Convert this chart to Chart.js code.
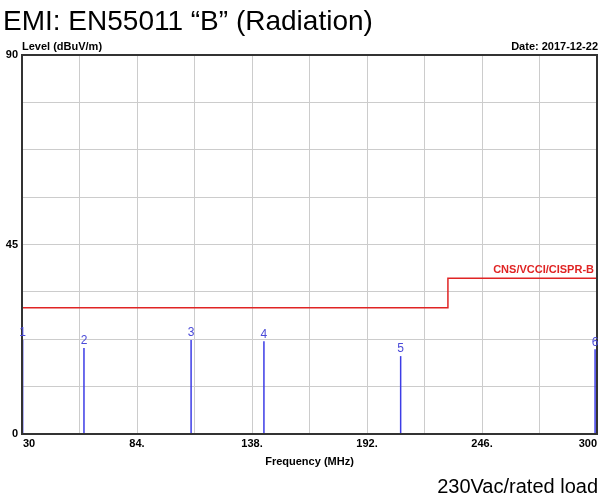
<!DOCTYPE html>
<html>
<head>
<meta charset="utf-8">
<script src="https://cdn.jsdelivr.net/npm/chart.js@4"></script>
<style>
  html, body { margin: 0; padding: 0; background: #fff; }
  #wrap { width: 610px; height: 497px; position: relative; }
</style>
</head>
<body>
<div id="wrap"><canvas id="myChart" width="610" height="497"></canvas></div>
<script>
// peak markers
var markerNo = ['1', '2', '3', '4', '5', '6'];
var markerFreq = [30.3, 59.1, 109.4, 143.6, 207.8, 299.1];
var markerLevel = [22.3, 20.4, 22.3, 22.0, 18.5, 20.1];

// CNS/VCCI/CISPR-B limit line
var limitFreq = [30, 230, 230, 300];
var limitLevel = [30, 30, 37, 37];

var xTickValues = [30, 84, 138, 192, 246, 300];
var xTicks = ['30', '84.', '138.', '192.', '246.', '300'];
var yTicks = ['0', '45', '90'];

var font = 'Arial, "Liberation Sans", sans-serif';

var datasets = [];
datasets.push({
	label: 'CNS/VCCI/CISPR-B',
	data: limitFreq.map(function (f, i) { return { x: f, y: limitLevel[i] }; }),
	borderColor: '#e02424',
	borderWidth: 1.5,
	pointRadius: 0,
	fill: false
});
for (var i = 0; i < markerFreq.length; i++) {
	datasets.push({
		label: markerNo[i],
		data: [{ x: markerFreq[i], y: 0 }, { x: markerFreq[i], y: markerLevel[i] }],
		borderColor: '#3c3ce6',
		borderWidth: 1.5,
		pointRadius: 0,
		fill: false
	});
}

var textPlugin = {
	id: 'texts',
	afterDraw: function (chart) {
		var ctx = chart.ctx;
		var a = chart.chartArea;
		var xs = chart.scales.x, ys = chart.scales.y;
		ctx.save();
		// frame
		ctx.strokeStyle = '#333';
		ctx.lineWidth = 2;
		ctx.strokeRect(a.left, a.top, a.right - a.left, a.bottom - a.top);

		// marker numbers
		ctx.fillStyle = '#4a4ad8';
		ctx.font = '12px ' + font;
		ctx.textAlign = 'center';
		ctx.textBaseline = 'bottom';
		for (var i = 0; i < markerFreq.length; i++) {
			ctx.fillText(markerNo[i], xs.getPixelForValue(markerFreq[i]), ys.getPixelForValue(markerLevel[i]) - 1);
		}

		// limit label
		ctx.fillStyle = '#e02424';
		ctx.font = 'bold 11px ' + font;
		ctx.textAlign = 'right';
		ctx.textBaseline = 'bottom';
		ctx.fillText('CNS/VCCI/CISPR-B', a.right - 3, ys.getPixelForValue(limitLevel[3]) - 3);

		// x tick labels (first one left aligned, last one right aligned)
		ctx.fillStyle = '#000';
		ctx.font = 'bold 11px ' + font;
		ctx.textBaseline = 'middle';
		for (var k = 0; k < xTicks.length; k++) {
			ctx.textAlign = k === 0 ? 'left' : (k === xTicks.length - 1 ? 'right' : 'center');
			ctx.fillText(xTicks[k], xs.getPixelForValue(xTickValues[k]) + (k === 0 ? 1 : 0), a.bottom + 10);
		}

		// titles
		ctx.font = '28px ' + font;
		ctx.textAlign = 'left';
		ctx.textBaseline = 'alphabetic';
		ctx.fillText('EMI: EN55011 \u201cB\u201d (Radiation)', 3, 30);

		ctx.font = 'bold 11px ' + font;
		ctx.fillText('Level (dBuV/m)', 22, 50);
		ctx.textAlign = 'right';
		ctx.fillText('Date: 2017-12-22', 598, 50);

		ctx.textAlign = 'center';
		ctx.fillText('Frequency (MHz)', (a.left + a.right) / 2, 465);

		ctx.font = '20px ' + font;
		ctx.textAlign = 'right';
		ctx.fillText('230Vac/rated load', 598, 493);
		ctx.restore();
	}
};

var flightChart = new Chart(document.getElementById('myChart'), {
	type: 'line',
	data: { datasets: datasets },
	options: {
		responsive: false,
		animation: false,
		layout: { padding: { top: 55, right: 13, bottom: 43, left: 0 } },
		plugins: {
			legend: { display: false },
			tooltip: { enabled: false }
		},
		scales: {
			x: {
				type: 'linear',
				min: 30,
				max: 300,
				afterFit: function (scale) { scale.height = 20; },
				afterBuildTicks: function (scale) {
					var t = [];
					for (var k = 0; k <= 10; k++) t.push({ value: 30 + k * 27 });
					scale.ticks = t;
				},
				grid: { color: '#cccccc', lineWidth: 1, drawTicks: false },
				border: { display: true, color: '#333', width: 2 },
				ticks: { display: false }
			},
			y: {
				type: 'linear',
				min: 0,
				max: 90,
				afterFit: function (scale) { scale.width = 22; },
				afterBuildTicks: function (scale) {
					var t = [];
					for (var k = 0; k <= 8; k++) t.push({ value: k * 11.25 });
					scale.ticks = t;
				},
				grid: { color: '#cccccc', lineWidth: 1, drawTicks: false },
				border: { display: true, color: '#333', width: 2 },
				ticks: {
					autoSkip: false,
					padding: 4,
					color: '#000',
					font: { family: font, size: 11, weight: 'bold' },
					callback: function (v, idx) { return idx % 4 === 0 ? yTicks[idx / 4] : ''; }
				}
			}
		}
	},
	plugins: [textPlugin]
});
</script>
</body>
</html>
